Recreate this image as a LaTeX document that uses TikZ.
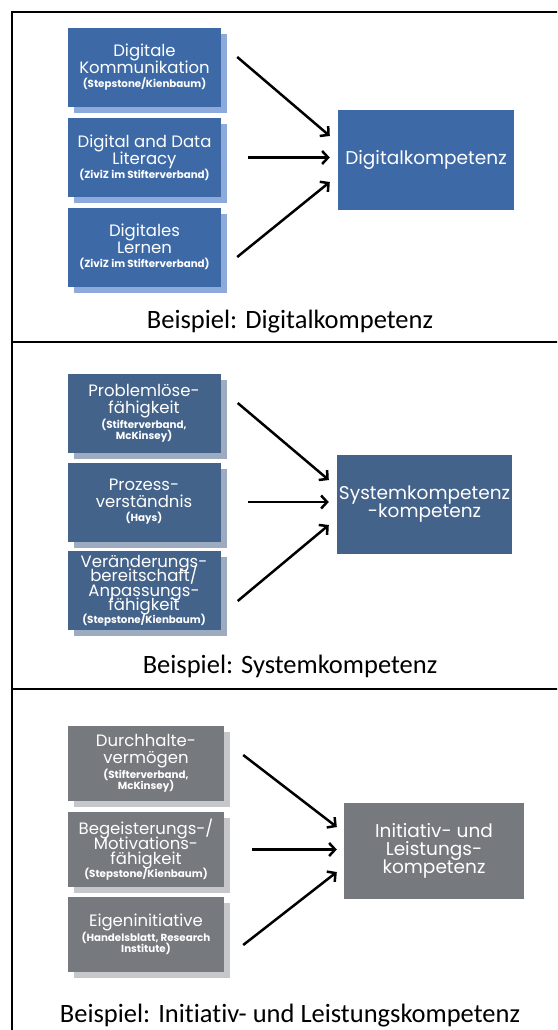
\documentclass[tikz,border=0pt]{standalone}
\usepackage{fontspec}
\setmainfont{Carlito}[Ligatures=NoCommon]
\newfontfamily\boxfont{Poppins}
\usepackage{tikz}
\usetikzlibrary{positioning, calc, arrows.meta, shadows}

\definecolor{digiblue}{HTML}{3D6AA6}
\definecolor{digishade}{HTML}{8EAADB}
\definecolor{sysblue}{HTML}{44638A}
\definecolor{sysshade}{HTML}{9DABC0}
\definecolor{initgray}{HTML}{76797E}
\definecolor{initshade}{HTML}{C5C7CA}

\newcommand{\srcref}{\boxfont\bfseries\fontsize{10.3}{10}\selectfont}
\newcommand{\boxsize}[2]{\boxfont\fontsize{#1}{#2}\selectfont\lineskiplimit=-50pt}

\tikzset{
    src/.style={fill=#1, text=white, align=center, inner sep=0pt,
        font=\boxsize{16.5}{17}},
    srcbox/.style 2 args={src=#1, minimum width=153pt, minimum height=79pt,
        general shadow={fill=#2, shadow xshift=6pt, shadow yshift=-6pt}},
    goal/.style={src=#1, minimum width=176pt, minimum height=99pt,
        font=\boxsize{18.5}{18}},
    arr/.style={line width=2.5pt, -{Straight Barb[length=6pt,width=13pt,line width=2.5pt]}},
    caption/.style={font=\fontsize{26.5}{30}\selectfont, anchor=base}
}

\begin{document}
\begin{tikzpicture}[x=1pt, y=-1pt]
        \useasboundingbox (0,0) rectangle (557,1030);
        \clip (0,0) rectangle (557,1030);

        % the frame
        \draw [line width=1.3pt] (12,12) rectangle (568,1045);
        \draw [line width=1.3pt] (12,342) -- (568,342);
        \draw [line width=1.3pt] (12,689) -- (568,689);

        % panel 1: Digitalkompetenz
        \node[srcbox={digiblue}{digishade}] (dk1) at (144.5,67.5) {Digitale\\Kommunikation\\[-3pt]\srcref (Stepstone/Kienbaum)};
        \node[srcbox={digiblue}{digishade}] (dk2) at (144.5,157.5) {Digital and Data\\Literacy\\[-3pt]\srcref (ZiviZ im Stifterverband)};
        \node[srcbox={digiblue}{digishade}] (dk3) at (144.5,247) {Digitales\\Lernen\\[-3pt]\srcref (ZiviZ im Stifterverband)};
        \node[goal=digiblue] (dk) at (426,160) {Digitalkompetenz};

        \draw[arr] ([xshift=16pt, yshift=10.5pt]dk1.east) -- ([xshift=-8pt, yshift=24pt]dk.west);
        \draw[arr] ([xshift=27pt]dk2.east) -- ([xshift=-8pt]dk.west |- dk2.east);
        \draw[arr] ([xshift=16pt, yshift=-10pt]dk3.east) -- ([xshift=-8pt, yshift=-22pt]dk.west);

        \node[caption] (cap1) at (290,328) {Beispiel: Digitalkompetenz};

        % panel 2: Systemkompetenz
        \node[srcbox={sysblue}{sysshade}] (sk1) at (144,413) {Problemlöse-\\fähigkeit\\[-2pt]\srcref (Stifterverband,\\[-6pt]\srcref McKinsey)};
        \node[srcbox={sysblue}{sysshade}, font=\boxsize{16.5}{14.5}] (sk3) at (144,590.5) {Veränderungs-\\bereitschaft/\\Anpassungs-\\fähigkeit\\[-2pt]\srcref (Stepstone/Kienbaum)};
        \node[srcbox={sysblue}{sysshade}] (sk2) at (144,502) {Prozess-\\verständnis\\[-3pt]\srcref (Hays)};
        \node[goal=sysblue, minimum width=175pt] (sk) at (424.5,504) {Systemkompetenz\\-kompetenz};

        \draw[arr] ([xshift=17pt, yshift=10pt]sk1.east) -- ([xshift=-8pt, yshift=24pt]sk.west);
        \draw[arr] ([xshift=27pt]sk2.east) -- ([xshift=-8pt]sk.west |- sk2.east);
        \draw[arr] ([xshift=17pt, yshift=-10.5pt]sk3.east) -- ([xshift=-8pt, yshift=-21pt]sk.west);

        \node[caption] (cap2) at (290,673) {Beispiel: Systemkompetenz};

        % panel 3: Initiativ- und Leistungskompetenz
        \node[srcbox={initgray}{initshade}, minimum width=156pt, minimum height=75pt] (ik1) at (146,763.5) {Durchhalte-\\vermögen\\[-2pt]\srcref (Stifterverband,\\[-6pt]\srcref McKinsey)};
        \node[srcbox={initgray}{initshade}, minimum width=156pt, minimum height=75pt, font=\boxsize{16.5}{15}] (ik2) at (146,849.5) {Begeisterungs-/\\Motivations-\\fähigkeit\\[-2pt]\srcref (Stepstone/Kienbaum)};
        \node[srcbox={initgray}{initshade}, minimum width=156pt, minimum height=75pt] (ik3) at (146,934.5) {Eigeninitiative\\[-2pt]\srcref (Handelsblatt, Research\\[-6pt]\srcref Institute)};
        \node[goal=initgray, minimum width=180pt, minimum height=96pt] (ik) at (434,851) {Initiativ- und\\Leistungs-\\kompetenz};

        \draw[arr] ([xshift=19pt, yshift=8.5pt]ik1.east) -- ([xshift=-7pt, yshift=24pt]ik.west);
        \draw[arr] ([xshift=28pt]ik2.east) -- ([xshift=-7pt]ik.west |- ik2.east);
        \draw[arr] ([xshift=19pt, yshift=-10.5pt]ik3.east) -- ([xshift=-7pt, yshift=-21pt]ik.west);

        \node[caption] (cap3) at (290,1022) {Beispiel: Initiativ- und Leistungskompetenz};
    \end{tikzpicture}
\end{document}
